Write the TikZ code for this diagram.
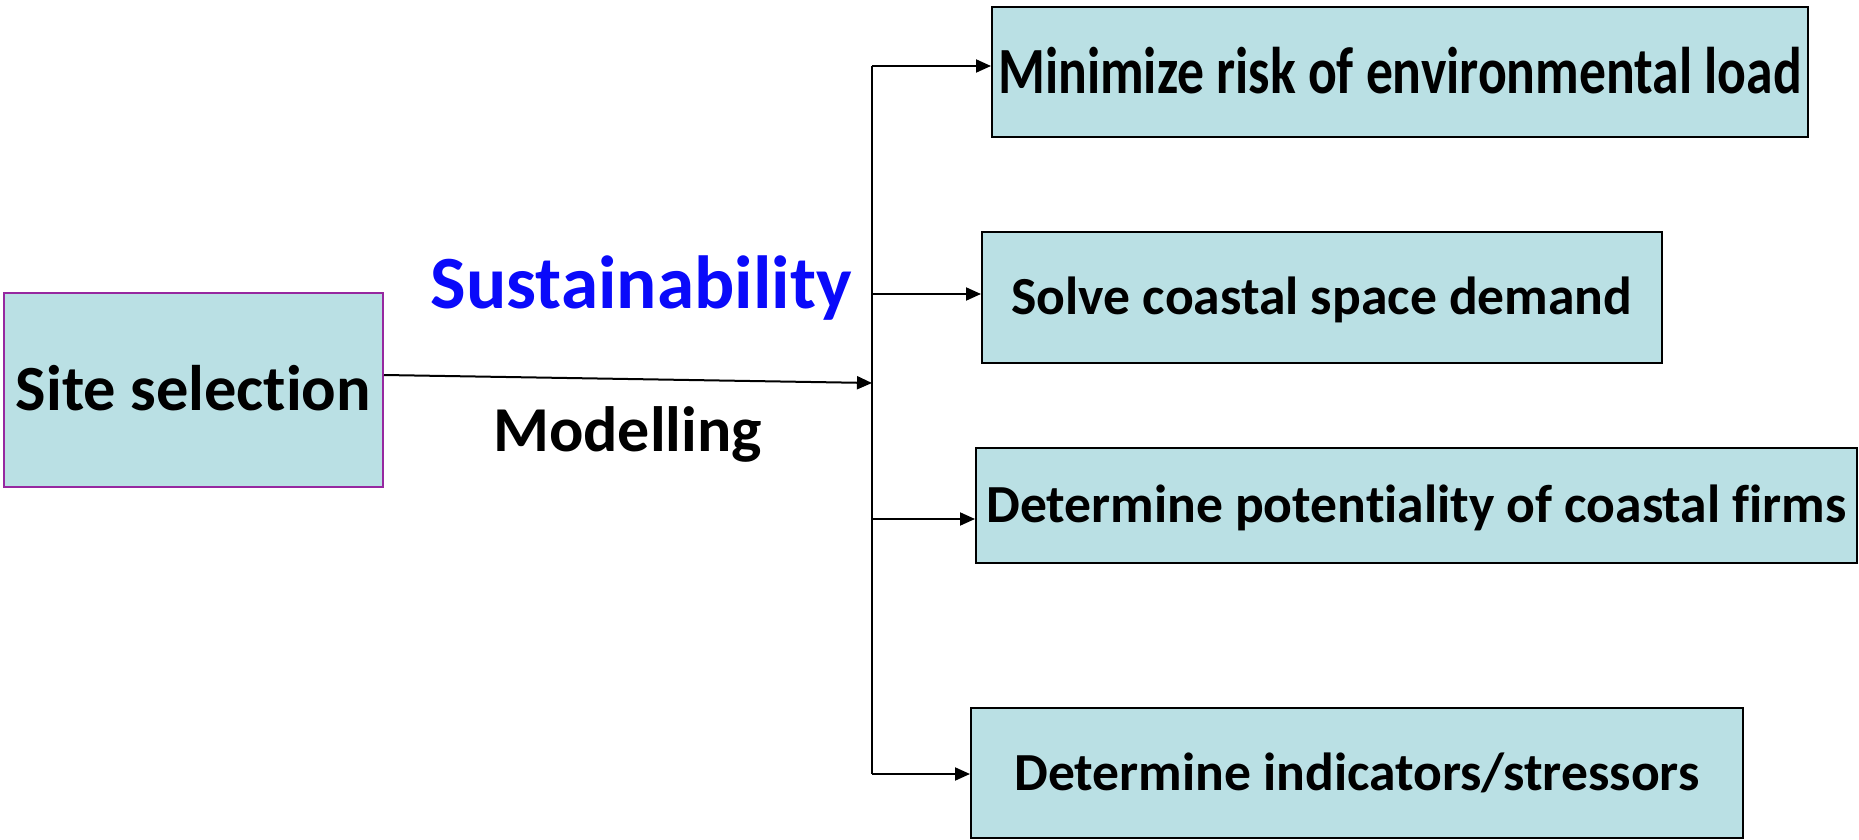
\documentclass[tikz,border=0pt]{standalone}
\usepackage{fontspec}
\setmainfont[Ligatures=NoCommon]{Carlito}
\usetikzlibrary{arrows.meta}
\definecolor{boxfill}{RGB}{186,224,228}
\definecolor{sitepurple}{RGB}{150,40,160}
\definecolor{sustblue}{RGB}{10,10,250}
\begin{document}
\begin{tikzpicture}[x=0.5pt,y=-0.5pt,
  box/.style={draw=black,line width=1pt,fill=boxfill,inner sep=0pt,
    font=\bfseries\fontsize{26.8pt}{30pt}\selectfont,text height=17.2pt,text depth=0pt},
  conn/.style={line width=1pt,-{Triangle[length=7.5pt,width=6.5pt]}},
  plain/.style={line width=1pt}]
\useasboundingbox (0,0) rectangle (1859,840);
% boxes
\node[box,draw=sitepurple,minimum width=189.5pt,minimum height=97pt,
  font=\bfseries\fontsize{32.2pt}{36pt}\selectfont,text height=20.7pt] (site) at (193.5,390) {Site selection};
\node[box,minimum width=408pt,minimum height=65pt,
  font=\bfseries\fontsize{33pt}{38pt}\selectfont,text height=21.3pt] (b1) at (1400,72)
  {\scalebox{0.813}[1]{Minimize risk of environmental load}};
\node[box,minimum width=340pt,minimum height=65.5pt] (b2) at (1322,297.5) {Solve coastal space demand};
\node[box,minimum width=440.5pt,minimum height=57.5pt] (b3) at (1416.5,505.5) {Determine potentiality of coastal firms};
\node[box,minimum width=386pt,minimum height=65pt] (b4) at (1357,773) {Determine indicators/stressors};
% labels
\node[anchor=base,inner sep=0pt,text=sustblue,font=\bfseries\fontsize{37.6pt}{42pt}\selectfont] (sust) at (641,308) {Sustainability};
\node[anchor=base,inner sep=0pt,font=\bfseries\fontsize{32pt}{36pt}\selectfont] (model) at (627.5,451) {Modelling};
% connectors
\coordinate (j) at (872,383);
\coordinate (v1) at (872,66);
\coordinate (v2) at (872,294);
\coordinate (v3) at (872,519);
\coordinate (v4) at (872,774);
\draw[conn] ([yshift=7.5pt]site.east) -- (j);
\draw[plain] (v1) -- (v4);
\draw[conn] (v1) -- (v1 -| b1.west);
\draw[conn] (v2) -- (v2 -| b2.west);
\draw[conn] (v3) -- (v3 -| b3.west);
\draw[conn] (v4) -- (v4 -| b4.west);
\end{tikzpicture}
\end{document}
